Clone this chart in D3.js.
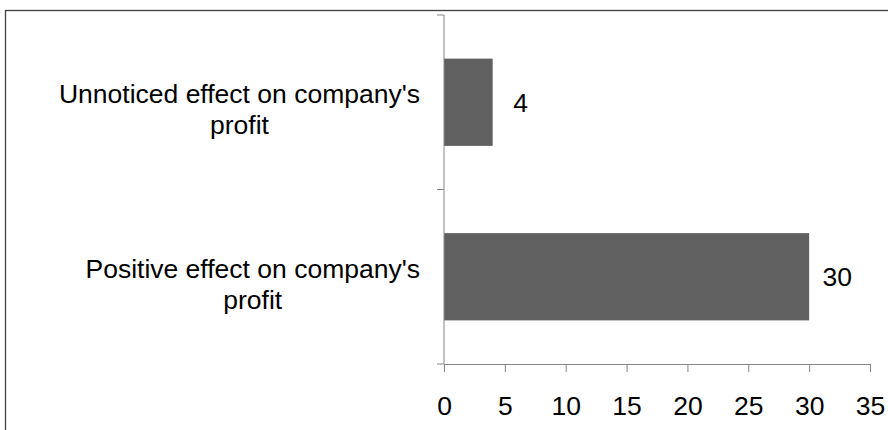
<!DOCTYPE html>
<html>
<head>
<meta charset="utf-8">
<script src="https://cdn.jsdelivr.net/npm/d3@7"></script>
<style>
  body { margin: 0; background: #fff; }
  svg { display: block; font-family: "Liberation Sans", Arial, sans-serif; }
</style>
</head>
<body>
<svg id="chart"></svg>
<script>
const width = 888;
const height = 430;
const margin = { top: 15, right: 18, bottom: 66, left: 444 };

// categories top to bottom, each split into its printed lines
const categories = [
    ["Unnoticed effect on company's", "profit"],
    ["Positive effect on company's", "profit"]
];
const values = [4, 30];
const xTicks = [0, 5, 10, 15, 20, 25, 30, 35];

const fontSize = "26.5px";

const svg = d3.select("#chart")
    .attr("width", width)
    .attr("height", height);

// outer frame, runs past the right and bottom edges
svg.append("rect")
    .attr("x", 5.5)
    .attr("y", 10.5)
    .attr("width", 1000)
    .attr("height", 1000)
    .attr("fill", "none")
    .attr("stroke", "#404040")
    .attr("stroke-width", 1.3);

const xScale = d3.scaleLinear()
    .domain([0, 35])
    .range([margin.left, width - margin.right]);

const yScale = d3.scaleBand()
    .domain(d3.range(categories.length))
    .range([margin.top, height - margin.bottom])
    .paddingInner(0.5)
    .paddingOuter(0.25);

// bars
svg.append("g")
    .selectAll("rect")
    .data(values)
    .join("rect")
    .attr("x", xScale(0))
    .attr("y", (d, i) => yScale(i))
    .attr("width", d => xScale(d) - xScale(0))
    .attr("height", yScale.bandwidth())
    .attr("fill", "#606060");

// x axis
const xAxis = svg.append("g")
    .attr("transform", `translate(0, ${height - margin.bottom})`)
    .call(d3.axisBottom(xScale)
        .tickValues(xTicks)
        .tickSize(8)
        .tickPadding(24)
        .tickSizeOuter(0));
xAxis.select(".domain").attr("stroke", "#868686");
xAxis.selectAll(".tick line").attr("stroke", "#868686");
xAxis.selectAll("text")
    .attr("font-size", fontSize)
    .attr("font-family", "Liberation Sans, Arial, sans-serif")
    .attr("fill", "#000");

// y axis: ticks sit on the category boundaries
const step = yScale.step();
const bounds = d3.range(categories.length + 1).map(i => margin.top + i * step);
const yAxis = svg.append("g");
yAxis.append("line")
    .attr("x1", xScale(0)).attr("x2", xScale(0))
    .attr("y1", margin.top).attr("y2", height - margin.bottom)
    .attr("stroke", "#868686");
yAxis.selectAll("line.tick")
    .data(bounds)
    .join("line")
    .attr("class", "tick")
    .attr("x1", xScale(0) - 7).attr("x2", xScale(0))
    .attr("y1", d => d).attr("y2", d => d)
    .attr("stroke", "#868686");

// category labels, each block centred in itself and right aligned to the axis
categories.forEach((lines, i) => {
    const cy = yScale(i) + yScale.bandwidth() / 2;
    const g = svg.append("g");
    const texts = g.selectAll("text")
        .data(lines)
        .join("text")
        .attr("y", (d, j) => cy + 1 + j * 31)
        .attr("font-size", fontSize)
        .attr("text-anchor", "middle")
        .attr("fill", "#000")
        .text(d => d);
    const maxW = d3.max(texts.nodes(), n => n.getComputedTextLength());
    texts.attr("x", xScale(0) - 24 - maxW / 2);
});

// value labels
svg.append("g")
    .selectAll("text")
    .data(values)
    .join("text")
    .attr("x", d => xScale(d) + 28)
    .attr("y", (d, i) => yScale(i) + yScale.bandwidth() / 2)
    .attr("dy", "0.35em")
    .attr("font-size", fontSize)
    .attr("text-anchor", "middle")
    .attr("fill", "#000")
    .text(d => d);
</script>
</body>
</html>
